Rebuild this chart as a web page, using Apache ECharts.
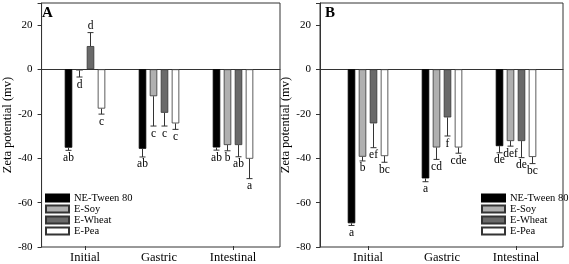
<!DOCTYPE html>
<html>
<head>
<meta charset="utf-8">
<script src="https://cdn.jsdelivr.net/npm/echarts@6/dist/echarts.min.js"></script>
<style>html,body{margin:0;padding:0;background:#fff}#c{width:569px;height:264px}</style>
</head>
<body>
<div id="c"></div>
<script>
const categories = ['Initial', 'Gastric', 'Intestinal'];
const seriesNames = ['NE-Tween 80', 'E-Soy', 'E-Wheat', 'E-Pea'];
const yTicks = [-80, -60, -40, -20, 0, 20];

// Panel A values (mV), error (SD) and significance letters
const aTween = [-35.5, -36.0, -35.4];
const aSoy = [-0.5, -12.2, -34.3];
const aWheat = [10.5, -19.7, -34.3];
const aPea = [-17.8, -24.5, -40.5];
const aTweenSD = [1.2, 3.7, 1.2];
const aSoySD = [3.0, 13.5, 2.6];
const aWheatSD = [6.1, 6.0, 5.3];
const aPeaSD = [2.5, 2.7, 9.0];
const aTweenLet = ['ab', 'ab', 'ab'];
const aSoyLet = ['d', 'c', 'b'];
const aWheatLet = ['d', 'c', 'ab'];
const aPeaLet = ['c', 'c', 'a'];

// Panel B
const bTween = [-69.7, -49.4, -34.8];
const bSoy = [-39.6, -35.4, -32.5];
const bWheat = [-24.5, -21.8, -32.5];
const bPea = [-39.3, -35.4, -39.7];
const bTweenSD = [1.0, 1.5, 3.0];
const bSoySD = [1.9, 5.4, 2.3];
const bWheatSD = [11.0, 8.4, 7.5];
const bPeaSD = [2.8, 2.6, 3.0];
const bTweenLet = ['a', 'a', 'de'];
const bSoyLet = ['b', 'cd', 'def'];
const bWheatLet = ['ef', 'f', 'de'];
const bPeaLet = ['bc', 'cde', 'bc'];

(function () {
const panels = [
  { label: 'A', vals: [aTween, aSoy, aWheat, aPea], sds: [aTweenSD, aSoySD, aWheatSD, aPeaSD], lets: [aTweenLet, aSoyLet, aWheatLet, aPeaLet] },
  { label: 'B', vals: [bTween, bSoy, bWheat, bPea], sds: [bTweenSD, bSoySD, bWheatSD, bPeaSD], lets: [bTweenLet, bSoyLet, bWheatLet, bPeaLet] }
];

const FONT = 'Liberation Serif';
const colors = ['#000000', '#b0b0b0', '#6a6a6a', '#ffffff'];
const frameLeft = [37, 320];
const frameWidth = 243;
const innerOffset = 11;
const innerWidth = 222;
const gTop = 3, gHeight = 244;
const barW = 7.5, pitch = 11;

const grids = [], xAxes = [], yAxes = [], series = [], legends = [], graphics = [];

panels.forEach((p, pi) => {
  const og = grids.length;
  grids.push({ left: frameLeft[pi], top: gTop, width: frameWidth, height: gHeight, show: true, borderColor: '#333', borderWidth: 1, containLabel: false });
  grids.push({ left: frameLeft[pi] + innerOffset, top: gTop, width: innerWidth, height: gHeight, containLabel: false });
  const ig = og + 1;
  xAxes.push({ type: 'value', gridIndex: og, min: 0, max: 1, axisLine: { show: true, onZero: true, lineStyle: { color: '#333', width: 1 } }, axisTick: { show: false }, axisLabel: { show: false }, splitLine: { show: false } });
  yAxes.push({ type: 'value', gridIndex: og, min: -80, max: 30, interval: 20,
    name: 'Zeta potential (mv)', nameLocation: 'middle', nameGap: 26, nameRotate: 90,
    nameTextStyle: { fontFamily: FONT, fontSize: 12.5, color: '#000' },
    axisLine: { show: true, lineStyle: { color: '#333' } },
    axisTick: { show: true, inside: false, length: 4, lineStyle: { color: '#333' } },
    axisLabel: { fontFamily: FONT, fontSize: 11, color: '#000', margin: 9, formatter: v => (yTicks.indexOf(v) >= 0 ? String(v) : '') },
    splitLine: { show: false } });
  const ix = xAxes.length;
  xAxes.push({ type: 'category', gridIndex: ig, data: categories, position: 'bottom',
    axisLine: { show: false, onZero: false },
    axisTick: { show: true, alignWithLabel: true, length: 4, inside: false, interval: (i) => i !== 1, lineStyle: { color: '#333' } },
    axisLabel: { fontFamily: FONT, fontSize: 12.5, color: '#000', margin: 5 } });
  const iy = yAxes.length;
  yAxes.push({ type: 'value', gridIndex: ig, min: -80, max: 30, show: false, splitLine: { show: false } });

  seriesNames.forEach((name, si) => {
    series.push({ type: 'bar', name: name, xAxisIndex: ix, yAxisIndex: iy, data: p.vals[si], barWidth: barW, barGap: ((pitch - barW) / barW * 100) + '%',
      itemStyle: { color: colors[si], borderColor: si === 0 ? '#000' : '#333', borderWidth: 0.8 }, emphasis: { disabled: true }, animation: false });
  });
  seriesNames.forEach((name, si) => {
    const off = (si - 1.5) * pitch;
    const vals = p.vals[si], sds = p.sds[si], lets = p.lets[si];
    series.push({ type: 'custom', name: name + ' err', xAxisIndex: ix, yAxisIndex: iy,
      data: vals.map((v, i) => [i, v, v < 0 ? v - sds[i] : v + sds[i]]),
      z: 5, animation: false, silent: true,
      renderItem: (params, api) => {
        const i = params.dataIndex;
        const v = api.value(1), e = api.value(2);
        const p0 = api.coord([api.value(0), v]);
        const p1 = api.coord([api.value(0), e]);
        const x = p0[0] + off;
        const neg = v < 0;
        return { type: 'group', children: [
          { type: 'line', shape: { x1: x, y1: p0[1], x2: x, y2: p1[1] }, style: { stroke: '#333', lineWidth: 1 } },
          { type: 'line', shape: { x1: x - 3, y1: p1[1], x2: x + 3, y2: p1[1] }, style: { stroke: '#333', lineWidth: 1 } },
          { type: 'text', style: { text: lets[i], x: x, y: neg ? p1[1] + 1.5 : p1[1] - 1, align: 'center', verticalAlign: neg ? 'top' : 'bottom', fontFamily: FONT, fontSize: 11.5, fill: '#000' } }
        ] };
      } });
  });

  legends.push({ data: seriesNames, orient: 'vertical', left: pi === 0 ? 45 : 481, top: 192.5, itemWidth: 23, itemHeight: 7, itemGap: 0, icon: 'rect',
    selectedMode: false, textStyle: { fontFamily: FONT, fontSize: 10.5, color: '#000', lineHeight: 11 }, padding: 0 });

  graphics.push({ type: 'text', left: frameLeft[pi] + 5, top: 6, style: { text: p.label, fontFamily: FONT, fontSize: 15, fontWeight: 'bold', fill: '#000' } });
});

const chart = echarts.init(document.getElementById('c'), null, { renderer: 'canvas' });
chart.setOption({
  animation: false,
  backgroundColor: '#fff',
  grid: grids, xAxis: xAxes, yAxis: yAxes, series: series, legend: legends, graphic: graphics
});
})();
</script>
</body>
</html>
